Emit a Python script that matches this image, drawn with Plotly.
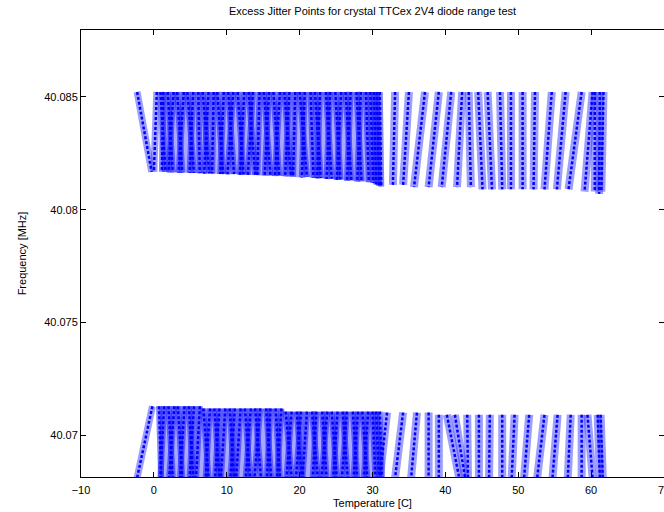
import plotly.graph_objects as go

# ---------------- data ----------------
# Upper band (around 40.081-40.085 MHz): each sweep runs from a top
# temperature (at the band top) to a bottom temperature / frequency.
upper_top_f = 40.08522

upper_left_top = [-2.3, 0.4, 0.9]
upper_left_bot = [-0.3, 0.0, 1.6]
upper_left_fbot = [40.08168, 40.08168, 40.08168]

upper_dense_top = [1.3, 1.9, 2.7, 3.2, 4.1, 4.6, 5.4, 6.1, 6.7, 7.5,
                   8.2, 8.7, 9.6, 10.2, 10.9, 11.5, 12.4, 13.0, 13.6, 14.5,
                   15.1, 15.8, 16.4, 17.3, 17.9, 18.6, 19.4, 20.0, 20.7, 21.5,
                   22.1, 22.8, 23.6, 24.2, 24.9, 25.7, 26.3, 27.0, 27.8, 28.4,
                   29.1, 29.7, 30.2, 30.6, 31.0]
upper_dense_bot = [1.1, 2.6, 2.0, 3.9, 3.4, 5.5, 4.9, 6.3, 7.6, 6.9,
                   8.0, 9.5, 9.1, 11.0, 10.1, 12.3, 11.8, 13.9, 12.9, 14.2,
                   16.0, 15.2, 17.2, 16.6, 18.8, 18.0, 19.1, 21.0, 20.3, 21.9,
                   22.9, 22.4, 24.4, 23.7, 25.6, 25.1, 27.1, 26.5, 28.5, 27.9,
                   29.5, 30.1, 30.5, 30.9, 31.2]
upper_dense_fbot = [40.08168, 40.08166, 40.08166, 40.08165, 40.08164,
                    40.08163, 40.08163, 40.08162, 40.08161, 40.08160,
                    40.08160, 40.08159, 40.08158, 40.08158, 40.08157,
                    40.08156, 40.08155, 40.08155, 40.08154, 40.08153,
                    40.08152, 40.08151, 40.08150, 40.08149, 40.08148,
                    40.08147, 40.08146, 40.08145, 40.08143, 40.08142,
                    40.08140, 40.08139, 40.08137, 40.08136, 40.08134,
                    40.08132, 40.08130, 40.08128, 40.08126, 40.08124,
                    40.08122, 40.08119, 40.08112, 40.08105, 40.08102]

upper_right_top = [33.1, 35.0, 37.2, 39.1, 40.8, 42.3, 43.2, 44.5, 45.8, 47.5,
                   49.0, 50.6, 52.3, 54.6, 56.5, 58.7, 60.2, 60.5, 61.2, 61.7]
upper_right_bot = [32.8, 34.2, 35.7, 37.7, 39.5, 41.6, 43.5, 45.1, 46.4, 47.8,
                   49.0, 50.6, 52.1, 53.6, 55.3, 56.9, 59.1, 60.5, 61.1, 61.4]
upper_right_fbot = [40.0811, 40.0811, 40.0810, 40.0810, 40.0810, 40.0810,
                    40.0810, 40.0809, 40.0809, 40.0809, 40.0809, 40.0809,
                    40.0809, 40.0809, 40.0809, 40.0809, 40.0808, 40.0808,
                    40.0807, 40.0808]

# Lower band (around 40.068-40.071 MHz): sweeps from the band top down
# past the bottom of the axes.
lower_bot_f = 40.0681

lower_left_top = [-0.2]
lower_left_bot = [-2.3]
lower_left_ftop = [40.07128]

lower_dense_top = [0.7, 1.4, 2.0, 2.8, 3.3, 4.2, 4.8, 5.5, 6.3, 6.8,
                   7.7, 8.3, 9.0, 9.8, 10.4, 11.1, 11.9, 12.5, 13.3, 13.9,
                   14.6, 15.4, 16.0, 16.7, 17.5, 18.1, 18.9, 19.6, 20.2, 21.0,
                   21.7, 22.3, 23.1, 23.8, 24.4, 25.2, 25.9, 26.5, 27.3, 28.0,
                   28.6, 29.4, 30.0, 30.5, 31.0]
lower_dense_bot = [1.0, 0.9, 2.6, 2.1, 3.9, 3.6, 5.4, 4.9, 5.8, 7.5,
                   7.1, 9.0, 8.4, 9.2, 11.0, 10.5, 11.3, 13.2, 12.6, 14.7,
                   13.8, 16.1, 15.5, 17.3, 16.9, 18.9, 18.2, 20.3, 19.5, 20.4,
                   22.5, 21.8, 23.7, 23.0, 25.1, 24.6, 26.6, 25.8, 27.9, 27.4,
                   29.3, 28.8, 30.4, 30.9, 31.3]
lower_dense_ftop = [40.07128, 40.07128, 40.07128, 40.07128, 40.07128,
                    40.07128, 40.07128, 40.07128, 40.07128, 40.07118,
                    40.07118, 40.07118, 40.07118, 40.07118, 40.07118,
                    40.07118, 40.07118, 40.07118, 40.07118, 40.07118,
                    40.07118, 40.07118, 40.07118, 40.07118, 40.07118,
                    40.07104, 40.07104, 40.07104, 40.07104, 40.07104,
                    40.07104, 40.07104, 40.07104, 40.07104, 40.07104,
                    40.07104, 40.07104, 40.07104, 40.07104, 40.07104,
                    40.07104, 40.07104, 40.07104, 40.07104, 40.07104]

lower_right_top = [32.0, 34.2, 36.1, 37.7, 39.1, 40.2, 41.3, 43.0, 44.6, 46.1,
                   47.8, 49.5, 51.5, 53.6, 55.4, 57.2, 58.7, 59.5, 60.9, 61.3]
lower_right_bot = [31.0, 33.1, 35.3, 37.7, 39.1, 41.9, 42.7, 43.1, 44.6, 46.0,
                   47.8, 49.1, 50.8, 52.6, 54.7, 56.8, 58.7, 60.2, 61.2, 61.6]
lower_right_ftop = [40.0710, 40.0710, 40.0710, 40.0710, 40.0709, 40.0709,
                    40.0709, 40.0709, 40.0709, 40.0709, 40.0709, 40.0709,
                    40.0709, 40.0709, 40.0709, 40.0709, 40.0709, 40.0709,
                    40.0709, 40.0709]

x_ticks = [-10, 0, 10, 20, 30, 40, 50, 60, 70]
y_ticks = [40.07, 40.075, 40.08, 40.085]
y_tick_labels = ["40.07", "40.075", "40.08", "40.085"]

# ---------------- figure ----------------
fig = go.Figure()

BAND_SPARSE = "rgba(40,40,255,0.45)"
BAND_DENSE = "rgba(20,20,255,0.5)"
FILL_DENSE = "rgba(110,110,255,0.6)"
CORE = "rgb(0,0,255)"

# light background of the densely swept regions, built from the sweep ends
up_pairs = sorted(zip(upper_dense_bot, upper_dense_fbot), reverse=True)
fig.add_trace(go.Scatter(
    x=[upper_dense_top[0], upper_dense_top[-1]] + [p[0] for p in up_pairs],
    y=[upper_top_f, upper_top_f] + [p[1] for p in up_pairs],
    mode="lines", fill="toself", fillcolor=FILL_DENSE,
    line=dict(width=0, color=FILL_DENSE), hoverinfo="skip", showlegend=False))

lo_pairs = sorted(zip(lower_dense_top, lower_dense_ftop))
lo_bots = sorted(lower_dense_bot, reverse=True)
fig.add_trace(go.Scatter(
    x=[p[0] for p in lo_pairs] + lo_bots[:1] + lo_bots[-1:],
    y=[p[1] for p in lo_pairs] + [lower_bot_f, lower_bot_f],
    mode="lines", fill="toself", fillcolor=FILL_DENSE,
    line=dict(width=0, color=FILL_DENSE), hoverinfo="skip", showlegend=False))

core_x, core_y = [], []


def sweep(t_top, f_top, t_bot, f_bot, band_color, width):
    fig.add_trace(go.Scatter(x=[t_top, t_bot], y=[f_top, f_bot], mode="lines",
                             line=dict(color=band_color, width=width),
                             hoverinfo="skip", showlegend=False))
    core_x.extend([t_top, t_bot, None])
    core_y.extend([f_top, f_bot, None])


for a, b, fb in zip(upper_left_top, upper_left_bot, upper_left_fbot):
    sweep(a, upper_top_f, b, fb, BAND_SPARSE, 7)
for a, b, fb in zip(upper_dense_top, upper_dense_bot, upper_dense_fbot):
    sweep(a, upper_top_f, b, fb, BAND_DENSE, 6)
for a, b, fb in zip(upper_right_top, upper_right_bot, upper_right_fbot):
    sweep(a, upper_top_f, b, fb, BAND_SPARSE, 8)

for a, b, ft in zip(lower_left_top, lower_left_bot, lower_left_ftop):
    sweep(a, ft, b, lower_bot_f, BAND_SPARSE, 7)
for a, b, ft in zip(lower_dense_top, lower_dense_bot, lower_dense_ftop):
    sweep(a, ft, b, lower_bot_f, BAND_DENSE, 6)
for a, b, ft in zip(lower_right_top, lower_right_bot, lower_right_ftop):
    sweep(a, ft, b, lower_bot_f, BAND_SPARSE, 8)

fig.add_trace(go.Scatter(x=core_x, y=core_y, mode="lines",
                         line=dict(color=CORE, width=2.5, dash="3px,2px"),
                         hoverinfo="skip", showlegend=False))

FONT = "Liberation Sans, Arial, Helvetica, sans-serif"

axis_common = dict(showline=True, linecolor="black", linewidth=1,
                   mirror="ticks", ticks="inside", ticklen=5,
                   tickcolor="black", showgrid=False, zeroline=False,
                   ticklabeloverflow="allow", automargin=False,
                   tickfont=dict(family=FONT, size=11, color="black"))

fig.update_layout(
    width=664, height=512,
    margin=dict(l=81, r=0, t=30, b=35, autoexpand=False),
    paper_bgcolor="white", plot_bgcolor="white",
    title=dict(text="Excess Jitter Points for crystal TTCex 2V4 diode range test",
               x=0.5, xref="paper", xanchor="center",
               y=1 - 11 / 512, yref="container", yanchor="middle",
               font=dict(family=FONT, size=11, color="black")),
    xaxis=dict(range=[-10, 70], tickvals=x_ticks, ticklabelstandoff=3,
               title=dict(text="Temperature [C]", standoff=4,
                          font=dict(family=FONT, size=11, color="black")),
               **axis_common),
    yaxis=dict(range=[40.06814, 40.08797], tickvals=y_ticks,
               ticktext=y_tick_labels,
               title=dict(text="Frequency [MHz]", standoff=15,
                          font=dict(family=FONT, size=11, color="black")),
               **axis_common),
)

fig.write_html("out.html", config={"displayModeBar": False},
               post_script="document.body.style.margin='0';")
